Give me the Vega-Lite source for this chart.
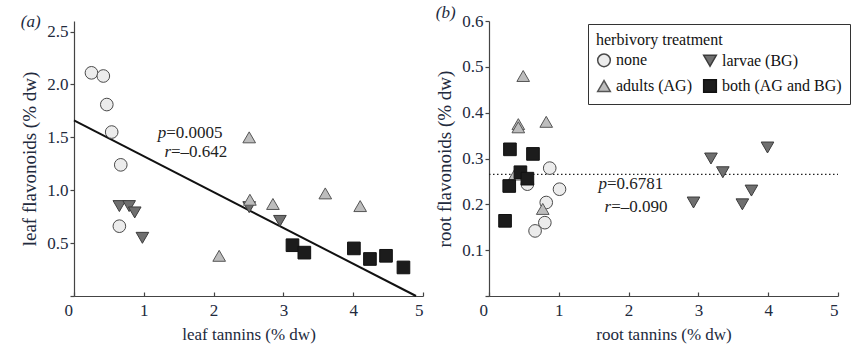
{
  "$schema": "https://vega.github.io/schema/vega-lite/v6.json",
  "padding": {"left": 20, "top": 4, "right": 5, "bottom": 5},
  "config": {
    "font": "Liberation Serif",
    "view": {"stroke": null},
    "axis": {
      "labelFont": "Liberation Serif", "titleFont": "Liberation Serif",
      "labelFontSize": 17, "titleFontSize": 17, "titleFontWeight": "normal",
      "grid": false, "domainColor": "#444", "tickColor": "#444", "domainWidth": 1.2, "tickWidth": 1.2,
      "labelColor": "#222a3d", "titleColor": "#222a3d"
    },
    "legend": {
      "labelFont": "Liberation Serif", "titleFont": "Liberation Serif",
      "labelFontSize": 16, "titleFontSize": 16, "titleFontWeight": "normal",
      "labelColor": "#111", "titleColor": "#111", "labelLimit": 300
    },
    "title": {"font": "Liberation Serif", "fontSize": 17, "fontWeight": "normal", "fontStyle": "italic", "color": "#222a3d"}
  },
  "datasets": {
    "leafpts": [
      {"tannin": 0.25, "flav": 2.11, "group": "none"},
      {"tannin": 0.42, "flav": 2.08, "group": "none"},
      {"tannin": 0.47, "flav": 1.81, "group": "none"},
      {"tannin": 0.54, "flav": 1.55, "group": "none"},
      {"tannin": 0.67, "flav": 1.24, "group": "none"},
      {"tannin": 0.65, "flav": 0.66, "group": "none"},
      {"tannin": 0.65, "flav": 0.85, "group": "larvae (BG)"},
      {"tannin": 0.79, "flav": 0.85, "group": "larvae (BG)"},
      {"tannin": 0.87, "flav": 0.79, "group": "larvae (BG)"},
      {"tannin": 0.98, "flav": 0.55, "group": "larvae (BG)"},
      {"tannin": 2.51, "flav": 0.84, "group": "larvae (BG)"},
      {"tannin": 2.95, "flav": 0.71, "group": "larvae (BG)"},
      {"tannin": 2.51, "flav": 1.5, "group": "adults (AG)"},
      {"tannin": 2.08, "flav": 0.38, "group": "adults (AG)"},
      {"tannin": 2.52, "flav": 0.91, "group": "adults (AG)"},
      {"tannin": 2.85, "flav": 0.87, "group": "adults (AG)"},
      {"tannin": 3.6, "flav": 0.97, "group": "adults (AG)"},
      {"tannin": 4.1, "flav": 0.85, "group": "adults (AG)"},
      {"tannin": 3.13, "flav": 0.48, "group": "both (AG and BG)"},
      {"tannin": 3.3, "flav": 0.41, "group": "both (AG and BG)"},
      {"tannin": 4.01, "flav": 0.45, "group": "both (AG and BG)"},
      {"tannin": 4.24, "flav": 0.35, "group": "both (AG and BG)"},
      {"tannin": 4.47, "flav": 0.38, "group": "both (AG and BG)"},
      {"tannin": 4.72, "flav": 0.27, "group": "both (AG and BG)"}
    ],
    "rootpts": [
      {"tannin": 0.87, "flav": 0.279, "group": "none"},
      {"tannin": 0.55, "flav": 0.244, "group": "none"},
      {"tannin": 1.01, "flav": 0.233, "group": "none"},
      {"tannin": 0.82, "flav": 0.204, "group": "none"},
      {"tannin": 0.8, "flav": 0.16, "group": "none"},
      {"tannin": 0.66, "flav": 0.142, "group": "none"},
      {"tannin": 0.49, "flav": 0.48, "group": "adults (AG)"},
      {"tannin": 0.42, "flav": 0.375, "group": "adults (AG)"},
      {"tannin": 0.42, "flav": 0.368, "group": "adults (AG)"},
      {"tannin": 0.82, "flav": 0.38, "group": "adults (AG)"},
      {"tannin": 0.37, "flav": 0.265, "group": "adults (AG)"},
      {"tannin": 0.77, "flav": 0.19, "group": "adults (AG)"},
      {"tannin": 0.3, "flav": 0.32, "group": "both (AG and BG)"},
      {"tannin": 0.63, "flav": 0.31, "group": "both (AG and BG)"},
      {"tannin": 0.45, "flav": 0.27, "group": "both (AG and BG)"},
      {"tannin": 0.55, "flav": 0.256, "group": "both (AG and BG)"},
      {"tannin": 0.29, "flav": 0.24, "group": "both (AG and BG)"},
      {"tannin": 0.23, "flav": 0.164, "group": "both (AG and BG)"},
      {"tannin": 3.99, "flav": 0.324, "group": "larvae (BG)"},
      {"tannin": 3.18, "flav": 0.3, "group": "larvae (BG)"},
      {"tannin": 3.35, "flav": 0.27, "group": "larvae (BG)"},
      {"tannin": 3.76, "flav": 0.23, "group": "larvae (BG)"},
      {"tannin": 2.93, "flav": 0.204, "group": "larvae (BG)"},
      {"tannin": 3.63, "flav": 0.2, "group": "larvae (BG)"}
    ],
    "leafline": [{"tannin": 0, "flav": 1.66}, {"tannin": 4.9, "flav": 0}],
    "rootline": [{"tannin": 0, "flav": 0.2655}, {"tannin": 5, "flav": 0.2655}],
    "leafann": [
      {"tannin": 1.32, "flav": 1.545, "sym": "p", "rest": "=0.0005"},
      {"tannin": 1.39, "flav": 1.365, "sym": "r", "rest": "=–0.642"}
    ],
    "rootann": [
      {"tannin": 1.69, "flav": 0.244, "sym": "p", "rest": "=0.6781"},
      {"tannin": 1.75, "flav": 0.195, "sym": "r", "rest": "=–0.090"}
    ]
  },
  "spacing": 66,
  "bounds": "flush",
  "resolve": {"legend": {"shape": "independent", "fill": "independent", "stroke": "independent"}},
  "hconcat": [
    {
      "width": 349, "height": 275,
      "title": {"text": "(a)", "anchor": "start", "frame": "bounds", "offset": -10},
      "layer": [
        {
          "data": {"name": "leafline"},
          "mark": {"type": "line", "color": "#111", "strokeWidth": 2},
          "encoding": {
            "x": {"field": "tannin", "type": "quantitative"},
            "y": {"field": "flav", "type": "quantitative"}
          }
        },
        {
          "data": {"name": "leafpts"},
          "mark": {"type": "point", "filled": true, "size": 160, "strokeWidth": 1, "opacity": 1},
          "encoding": {
            "x": {"field": "tannin", "type": "quantitative", "scale": {"domain": [0, 5]},
                  "axis": {"title": "leaf tannins (% dw)", "values": [0, 1, 2, 3, 4, 5], "format": "d", "tickSize": -4, "labelPadding": 10, "titlePadding": 8,
                           "labelOffset": {"condition": {"test": "datum.value == 0", "value": -10}, "value": 0}}},
            "y": {"field": "flav", "type": "quantitative", "scale": {"domain": [0, 2.5]},
                  "axis": {"title": "leaf flavonoids (% dw)", "titleFontSize": 19, "values": [0, 0.5, 1, 1.5, 2, 2.5], "format": ".1f", "labelExpr": "datum.value == 0 ? '' : datum.label", "tickSize": 4, "labelPadding": 2, "titlePadding": 7}},
            "shape": {"field": "group", "type": "nominal", "legend": null,
                      "scale": {"domain": ["none", "adults (AG)", "larvae (BG)", "both (AG and BG)"], "range": ["circle", "triangle-up", "triangle-down", "square"]}},
            "fill": {"field": "group", "type": "nominal", "legend": null,
                     "scale": {"domain": ["none", "adults (AG)", "larvae (BG)", "both (AG and BG)"], "range": ["#ececec", "#bdbdbd", "#6f6f6f", "#1c1c1c"]}},
            "stroke": {"field": "group", "type": "nominal", "legend": null,
                       "scale": {"domain": ["none", "adults (AG)", "larvae (BG)", "both (AG and BG)"], "range": ["#4a4a4a", "#555555", "#3c3c3c", "#111111"]}}
          }
        },
        {
          "data": {"name": "leafann"},
          "mark": {"type": "text", "align": "right", "baseline": "middle", "fontSize": 17, "fontStyle": "italic", "font": "Liberation Serif", "color": "#222"},
          "encoding": {
            "x": {"field": "tannin", "type": "quantitative"},
            "y": {"field": "flav", "type": "quantitative"},
            "text": {"field": "sym"}
          }
        },
        {
          "data": {"name": "leafann"},
          "mark": {"type": "text", "align": "left", "baseline": "middle", "fontSize": 17, "font": "Liberation Serif", "color": "#222"},
          "encoding": {
            "x": {"field": "tannin", "type": "quantitative"},
            "y": {"field": "flav", "type": "quantitative"},
            "text": {"field": "rest"}
          }
        }
      ]
    },
    {
      "width": 349, "height": 275,
      "title": {"text": "(b)", "anchor": "start", "frame": "bounds", "offset": -10},
      "layer": [
        {
          "data": {"name": "rootline"},
          "mark": {"type": "line", "color": "#222", "strokeWidth": 1.3, "strokeDash": [1.5, 2.5]},
          "encoding": {
            "x": {"field": "tannin", "type": "quantitative"},
            "y": {"field": "flav", "type": "quantitative"}
          }
        },
        {
          "data": {"name": "rootpts"},
          "mark": {"type": "point", "filled": true, "size": 160, "strokeWidth": 1, "opacity": 1},
          "encoding": {
            "x": {"field": "tannin", "type": "quantitative", "scale": {"domain": [0, 5]},
                  "axis": {"title": "root tannins (% dw)", "values": [0, 1, 2, 3, 4, 5], "format": "d", "tickSize": -4, "labelPadding": 10, "titlePadding": 8,
                           "labelOffset": {"condition": {"test": "datum.value == 0", "value": -10}, "value": 0}}},
            "y": {"field": "flav", "type": "quantitative", "scale": {"domain": [0, 0.6]},
                  "axis": {"title": "root flavonoids (% dw)", "titleFontSize": 19, "values": [0, 0.1, 0.2, 0.3, 0.4, 0.5, 0.6], "format": ".1f", "labelExpr": "datum.value == 0 ? '' : datum.label", "tickSize": 4, "labelPadding": 2, "titlePadding": 7}},
            "shape": {"field": "group", "type": "nominal",
                      "scale": {"domain": ["none", "adults (AG)", "larvae (BG)", "both (AG and BG)"], "range": ["circle", "triangle-up", "triangle-down", "square"]},
                      "legend": {"title": "herbivory treatment", "orient": "none", "legendX": 99, "legendY": 3, "columns": 2, "strokeColor": "#333", "padding": 8, "rowPadding": 6, "columnPadding": 8, "titlePadding": 4, "symbolSize": 160, "labelOffset": 4, "titleFontWeight": "normal"}},
            "fill": {"field": "group", "type": "nominal",
                     "scale": {"domain": ["none", "adults (AG)", "larvae (BG)", "both (AG and BG)"], "range": ["#ececec", "#bdbdbd", "#6f6f6f", "#1c1c1c"]},
                     "legend": {"title": "herbivory treatment", "orient": "none", "legendX": 99, "legendY": 3, "columns": 2, "strokeColor": "#333", "padding": 8, "rowPadding": 6, "columnPadding": 8, "titlePadding": 4, "symbolSize": 160, "labelOffset": 4, "titleFontWeight": "normal"}},
            "stroke": {"field": "group", "type": "nominal",
                       "scale": {"domain": ["none", "adults (AG)", "larvae (BG)", "both (AG and BG)"], "range": ["#4a4a4a", "#555555", "#3c3c3c", "#111111"]},
                       "legend": {"title": "herbivory treatment", "orient": "none", "legendX": 99, "legendY": 3, "columns": 2, "strokeColor": "#333", "padding": 8, "rowPadding": 6, "columnPadding": 8, "titlePadding": 4, "symbolSize": 160, "labelOffset": 4, "titleFontWeight": "normal"}}
          }
        },
        {
          "data": {"name": "rootann"},
          "mark": {"type": "text", "align": "right", "baseline": "middle", "fontSize": 17, "fontStyle": "italic", "font": "Liberation Serif", "color": "#222"},
          "encoding": {
            "x": {"field": "tannin", "type": "quantitative"},
            "y": {"field": "flav", "type": "quantitative"},
            "text": {"field": "sym"}
          }
        },
        {
          "data": {"name": "rootann"},
          "mark": {"type": "text", "align": "left", "baseline": "middle", "fontSize": 17, "font": "Liberation Serif", "color": "#222"},
          "encoding": {
            "x": {"field": "tannin", "type": "quantitative"},
            "y": {"field": "flav", "type": "quantitative"},
            "text": {"field": "rest"}
          }
        }
      ]
    }
  ]
}
